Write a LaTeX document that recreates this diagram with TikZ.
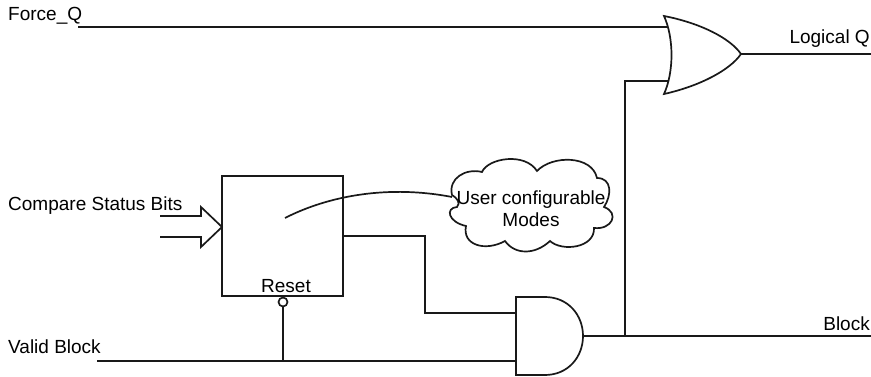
\documentclass[tikz,border=0pt]{standalone}
\usepackage{fontspec}
\setmainfont{Liberation Sans}
\usetikzlibrary{positioning, calc}

\tikzset{
    wire/.style={line width=1.7pt, black!90},
    gate/.style={line width=1.7pt, black!90, fill=white},
    signal/.style={inner sep=0pt, font=\fontsize{19}{22}\selectfont, text=black},
}

\begin{document}
\begin{tikzpicture}[x=1pt, y=-1pt]
    \useasboundingbox (0,0) rectangle (871,377);

    % free ends of the wires
    \coordinate (forceIn) at (78,27);
    \coordinate (validIn) at (97,361);
    \coordinate (logicalOut) at (871,54);
    \coordinate (blockOut) at (871,336);
    \coordinate (cmpA) at (160,216);
    \coordinate (cmpB) at (160,237);
    \coordinate (orA) at (668,27);
    \coordinate (orB) at (668,81);
    \coordinate (orOut) at (741,54);
    \coordinate (andA) at (516,313);
    \coordinate (andB) at (516,361);
    \coordinate (andOut) at (583,336);
    \coordinate (tap) at (625,336);
    \coordinate (resetTap) at (283,361);
    \coordinate (modeStart) at (285,218);
    \coordinate (modeEnd) at (452,197);

    \node[signal, anchor=base west] (force) at (8,21) {Force\_Q};
    \node[signal, anchor=base west] (compare) at (8,211) {Compare Status Bits};
    \node[signal, anchor=base west] (valid) at (8,353) {Valid Block};
    \node[signal, anchor=base east] (logical) at (870,44) {Logical Q};
    \node[signal, anchor=base east] (blocklabel) at (870,330) {Block};

    \node[gate, draw, minimum width=121pt, minimum height=120pt, inner sep=0pt] (counter) at (282.5,236) {};
    \node[signal, anchor=base] (reset) at (286,292) {Reset};
    \node[gate, draw, circle, minimum size=9pt, inner sep=0pt] (bubble) at (283,302) {};

    % wires
    \draw[wire] (forceIn) -- (orA);
    \draw[wire] (tap) |- (orB);
    \draw[wire] (orOut) -- (logicalOut);
    \draw[wire] (validIn) -- (andB);
    \draw[wire] (andOut) -- (blockOut);
    \draw[wire] (resetTap) -- (bubble);
    \draw[wire] (counter.east |- 0,236) -| (425,313) -- (andA);
    \draw[wire] (cmpA) -- (201,216) -- (201,207) -- (222,227) -- (201,247) -- (201,237) -- (cmpB);
    \draw[wire] (modeStart) .. controls (330,195) and (390,185) .. (modeEnd);

    % cloud, one curve per puff
    \draw[gate] (452,195) .. controls (448,178) and (466,168) .. (482,172)
        .. controls (488,158) and (525,152) .. (537,171)
        .. controls (552,155) and (592,155) .. (597,178)
        .. controls (612,178) and (612,195) .. (604,207)
        .. controls (620,213) and (612,230) .. (594,228)
        .. controls (595,248) and (562,252) .. (550,241)
        .. controls (535,255) and (515,255) .. (505,241)
        .. controls (485,252) and (462,245) .. (466,226)
        .. controls (448,222) and (445,208) .. (457,207)
        .. controls (461,203) and (457,198) .. cycle;
    \node[signal, align=center] (modes) at (531,209) {User configurable\\Modes};

    % gates
    \draw[gate] (664,16) .. controls (700,23) and (730,38) .. (orOut)
        .. controls (730,70) and (700,86) .. (664,94)
        .. controls (674,72) and (674,38) .. cycle;
    \draw[gate] (andA |- 0,297) -- (545,297) .. controls (568,297) and (583,315) .. (andOut)
        .. controls (583,357) and (568,375) .. (545,375) -- (andA |- 0,375) -- cycle;
\end{tikzpicture}
\end{document}
